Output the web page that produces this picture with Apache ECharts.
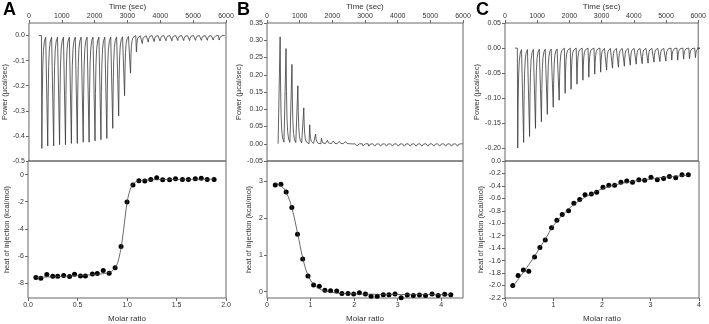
<!DOCTYPE html>
<html>
<head>
<meta charset="utf-8">
<script src="https://cdn.jsdelivr.net/npm/echarts@6/dist/echarts.min.js"></script>
<style>
html, body { margin: 0; padding: 0; background: #fff; }
#chart { width: 709px; height: 324px; }
</style>
</head>
<body>
<div id="chart"></div>
<script>
// injection times (sec) and peak power (ucal/sec) for each thermogram
var timesA = [380, 560, 740, 920, 1100, 1280, 1460, 1640, 1820, 2000, 2180, 2360, 2540, 2720, 2900, 3080,
    3260, 3440, 3620, 3800, 3980, 4160, 4340, 4520, 4700, 4880, 5060, 5240, 5420, 5600, 5780];
var peaksA = [-0.45, -0.44, -0.44, -0.435, -0.435, -0.43, -0.43, -0.425, -0.425, -0.42, -0.415, -0.41,
    -0.37, -0.32, -0.24, -0.15, -0.065, -0.032, -0.026, -0.024, -0.022, -0.021, -0.021, -0.02, -0.02,
    -0.02, -0.019, -0.019, -0.019, -0.018, -0.018];

var timesB = [390, 571, 752, 933, 1114, 1295, 1476, 1657, 1838, 2019, 2200, 2381, 2562, 2743, 2924, 3105,
    3286, 3467, 3648, 3829, 4010, 4191, 4372, 4553, 4734, 4915, 5096, 5277, 5458, 5639, 5820];
var peaksB = [0.31, 0.276, 0.23, 0.168, 0.104, 0.055, 0.028, 0.016, 0.01, 0.008, 0.007, 0.006,
    -0.005, -0.006, -0.006, -0.007, -0.007, -0.007, -0.007, -0.007, -0.007, -0.007, -0.007, -0.007,
    -0.007, -0.007, -0.007, -0.007, -0.007, -0.007, -0.007];

var timesC = [383, 567, 751, 935, 1119, 1303, 1487, 1671, 1855, 2039, 2223, 2407, 2591, 2775, 2959, 3143,
    3327, 3511, 3695, 3879, 4063, 4247, 4431, 4615, 4799, 4983, 5167, 5351, 5535, 5719, 5903];
var peaksC = [-0.199, -0.188, -0.176, -0.16, -0.147, -0.132, -0.118, -0.104, -0.09, -0.082, -0.072,
    -0.064, -0.058, -0.052, -0.048, -0.044, -0.04, -0.038, -0.036, -0.034, -0.032, -0.031, -0.03,
    -0.028, -0.027, -0.026, -0.024, -0.024, -0.022, -0.021, -0.019];

// integrated heats (kcal/mol) vs molar ratio
var ratioA = [0.08, 0.13, 0.19, 0.25, 0.30, 0.36, 0.42, 0.47, 0.53, 0.58, 0.65, 0.70, 0.76, 0.82, 0.88,
    0.94, 1.00, 1.06, 1.12, 1.18, 1.24, 1.30, 1.36, 1.43, 1.49, 1.56, 1.62, 1.69, 1.75, 1.81, 1.88];
var heatA = [-7.59, -7.64, -7.37, -7.49, -7.49, -7.45, -7.52, -7.35, -7.47, -7.47, -7.33, -7.30, -7.08,
    -7.28, -6.87, -5.30, -2.02, -0.77, -0.46, -0.48, -0.36, -0.24, -0.39, -0.39, -0.31, -0.36, -0.36,
    -0.31, -0.27, -0.36, -0.36];
var fitAx = [0.08, 0.3, 0.5, 0.7, 0.8, 0.86, 0.9, 0.92, 0.94, 0.96, 0.98, 1.0, 1.02, 1.04, 1.06, 1.08,
    1.1, 1.2, 1.5, 1.88];
var fitAy = [-7.58, -7.52, -7.45, -7.35, -7.25, -7.05, -6.6, -6.1, -5.4, -4.4, -3.2, -2.1, -1.4, -0.95,
    -0.7, -0.58, -0.5, -0.4, -0.36, -0.35];

var ratioB = [0.19, 0.32, 0.44, 0.57, 0.70, 0.82, 0.94, 1.07, 1.20, 1.33, 1.46, 1.60, 1.72, 1.86, 1.99,
    2.12, 2.26, 2.39, 2.53, 2.67, 2.80, 2.94, 3.08, 3.22, 3.36, 3.50, 3.64, 3.79, 3.93, 4.08, 4.22];
var heatB = [2.90, 2.92, 2.71, 2.29, 1.56, 0.89, 0.43, 0.18, 0.15, 0.04, 0.03, 0.02, -0.05, -0.05, -0.06,
    -0.03, -0.06, -0.12, -0.12, -0.08, -0.08, -0.06, -0.16, -0.09, -0.10, -0.09, -0.10, -0.06, -0.10,
    -0.07, -0.08];
var fitBx = [0.19, 0.32, 0.44, 0.57, 0.7, 0.82, 0.94, 1.07, 1.2, 1.33, 1.5, 1.75, 2.0, 2.5, 3.0, 4.22];
var fitBy = [2.95, 2.88, 2.7, 2.28, 1.6, 0.92, 0.45, 0.2, 0.08, 0.02, -0.02, -0.05, -0.06, -0.07, -0.075, -0.08];

var ratioC = [0.16, 0.27, 0.38, 0.49, 0.61, 0.72, 0.83, 0.96, 1.07, 1.18, 1.31, 1.42, 1.54, 1.65, 1.78,
    1.89, 2.02, 2.14, 2.26, 2.39, 2.51, 2.63, 2.76, 2.88, 3.01, 3.14, 3.27, 3.39, 3.52, 3.65, 3.78];
var heatC = [-2.00, -1.84, -1.75, -1.77, -1.54, -1.39, -1.27, -1.07, -0.95, -0.86, -0.80, -0.68, -0.62,
    -0.54, -0.53, -0.50, -0.42, -0.39, -0.39, -0.34, -0.32, -0.34, -0.30, -0.31, -0.26, -0.30, -0.28,
    -0.25, -0.27, -0.22, -0.22];
var fitCx = [0.16, 0.3, 0.45, 0.6, 0.72, 0.85, 0.97, 1.1, 1.25, 1.4, 1.55, 1.7, 1.85, 2.0, 2.2, 2.4, 2.6,
    2.8, 3.0, 3.3, 3.6, 3.78];
var fitCy = [-2.02, -1.87, -1.71, -1.54, -1.39, -1.23, -1.07, -0.94, -0.82, -0.71, -0.63, -0.56, -0.5,
    -0.45, -0.4, -0.36, -0.33, -0.31, -0.29, -0.26, -0.24, -0.23];

// tick labels
var timeTicks = [0, 1000, 2000, 3000, 4000, 5000, 6000];
var powerTicksA = [-0.5, -0.4, -0.3, -0.2, -0.1, 0.0];
var powerTicksB = [-0.05, 0.0, 0.05, 0.1, 0.15, 0.2, 0.25, 0.3, 0.35];
var powerTicksC = [-0.2, -0.15, -0.1, -0.05, 0.0, 0.05];
var heatTicksA = [-8, -6, -4, -2, 0];
var heatTicksB = [0, 1, 2, 3];
var heatTicksC = [-2.2, -2.0, -1.8, -1.6, -1.4, -1.2, -1.0, -0.8, -0.6, -0.4, -0.2, 0.0];
var ratioTicksA = [0, 0.5, 1.0, 1.5, 2.0];
var ratioTicksB = [0, 1, 2, 3, 4];
var ratioTicksC = [0, 1, 2, 3, 4];

// shape of one injection peak (offset sec, fraction of peak)
var spikeOff = [0, 12, 25, 40, 60, 90, 130, 172];
var spikeFrac = [0, 1, 0.55, 0.28, 0.13, 0.05, 0.015, 0];

function thermo(times, peaks, tStart, tEnd) {
    var d = [[tStart, 0]];
    for (var i = 0; i < times.length; i++) {
        for (var k = 0; k < spikeOff.length; k++) {
            d.push([times[i] + spikeOff[k], peaks[i] * spikeFrac[k]]);
        }
    }
    d.push([tEnd, 0]);
    return d;
}
function pairs(xs, ys) {
    var d = [];
    for (var i = 0; i < xs.length; i++) d.push([xs[i], ys[i]]);
    return d;
}

var font = 'Liberation Sans, Arial, sans-serif';
var txt = '#333';
var panels = [
    {left: 28, width: 198, rmax: 2, rticks: ratioTicksA, rdec: 1, ptick: powerTicksA, pmin: -0.5, pmax: 0.05, pdec: 1,
        htick: heatTicksA, hmin: -9.1, hmax: 1, hdec: 0, pgap: 18, hgap: 17},
    {left: 267, width: 196, rmax: 4.5, rticks: ratioTicksB, rdec: 0, ptick: powerTicksB, pmin: -0.05, pmax: 0.35, pdec: 2,
        htick: heatTicksB, hmin: -0.17, hmax: 3.55, hdec: 0, pgap: 18, hgap: 14},
    {left: 505, width: 194, rmax: 4, rticks: ratioTicksC, rdec: 0, ptick: powerTicksC, pmin: -0.225, pmax: 0.05, pdec: 2,
        htick: heatTicksC, hmin: -2.2, hmax: 0, hdec: 1, pgap: 21, hgap: 20}
];

var grids = [], xAxes = [], yAxes = [];
function fmt(dec) {
    return function (v) { return (Math.abs(v) < 1e-9 ? 0 : v).toFixed(dec); };
}
panels.forEach(function (p) {
    grids.push({left: p.left, width: p.width, top: 23, height: 138, show: true, borderColor: '#666', borderWidth: 1});
    grids.push({left: p.left, width: p.width, top: 161, height: 139, show: true, borderColor: '#666', borderWidth: 1});
    var g = grids.length - 2;
    xAxes.push({
        gridIndex: g, type: 'value', position: 'top', min: 0, max: 6000,
        name: 'Time (sec)', nameLocation: 'middle', nameGap: 12,
        nameTextStyle: {fontSize: 8, color: txt, fontFamily: font},
        axisLine: {show: false, onZero: false}, splitLine: {show: false},
        axisTick: {show: true, inside: false, length: 3, customValues: timeTicks, lineStyle: {color: '#666'}},
        axisLabel: {fontSize: 7, color: txt, fontFamily: font, margin: 3, customValues: timeTicks, formatter: fmt(0)}
    });
    xAxes.push({
        gridIndex: g + 1, type: 'value', position: 'bottom', min: 0, max: p.rmax,
        name: 'Molar ratio', nameLocation: 'middle', nameGap: 17,
        nameTextStyle: {fontSize: 8, color: txt, fontFamily: font},
        axisLine: {show: false, onZero: false}, splitLine: {show: false},
        axisTick: {show: true, inside: false, length: 3, customValues: p.rticks, lineStyle: {color: '#666'}},
        axisLabel: {fontSize: 7, color: txt, fontFamily: font, margin: 4, customValues: p.rticks, formatter: fmt(p.rdec)}
    });
    yAxes.push({
        gridIndex: g, type: 'value', min: p.pmin, max: p.pmax,
        name: 'Power (\u00b5cal/sec)', nameLocation: 'middle', nameGap: p.pgap,
        nameTextStyle: {fontSize: 7.5, color: txt, fontFamily: font},
        axisLine: {show: false, onZero: false}, splitLine: {show: false},
        axisTick: {show: true, inside: false, length: 3, customValues: p.ptick, lineStyle: {color: '#666'}},
        axisLabel: {fontSize: 7, color: txt, fontFamily: font, margin: 4, customValues: p.ptick, formatter: fmt(p.pdec)}
    });
    yAxes.push({
        gridIndex: g + 1, type: 'value', min: p.hmin, max: p.hmax,
        name: 'heat of injection (kcal/mol)', nameLocation: 'middle', nameGap: p.hgap,
        nameTextStyle: {fontSize: 7.5, color: txt, fontFamily: font},
        axisLine: {show: false, onZero: false}, splitLine: {show: false},
        axisTick: {show: true, inside: false, length: 3, customValues: p.htick, lineStyle: {color: '#666'}},
        axisLabel: {fontSize: 7, color: txt, fontFamily: font, margin: 4, customValues: p.htick, formatter: fmt(p.hdec)}
    });
});

var traceStyle = {color: '#3a3a3a', width: 0.8};
function traceSeries(idx, data) {
    return {type: 'line', xAxisIndex: idx, yAxisIndex: idx, data: data, showSymbol: false,
        lineStyle: traceStyle, silent: true, animation: false};
}
function fitSeries(idx, data) {
    return {type: 'line', xAxisIndex: idx, yAxisIndex: idx, data: data, showSymbol: false, smooth: 0.4,
        lineStyle: {color: '#444', width: 0.8}, silent: true, animation: false};
}
function dotSeries(idx, data) {
    return {type: 'scatter', xAxisIndex: idx, yAxisIndex: idx, data: data, symbol: 'circle', symbolSize: 5,
        itemStyle: {color: '#000', opacity: 1}, silent: true, animation: false};
}

var option = {
    backgroundColor: '#fff',
    animation: false,
    grid: grids,
    xAxis: xAxes,
    yAxis: yAxes,
    graphic: [
        {type: 'text', left: 3, top: 1, style: {text: 'A', fontSize: 18, fontWeight: 'bold', fill: '#000', fontFamily: font}},
        {type: 'text', left: 237, top: 1, style: {text: 'B', fontSize: 18, fontWeight: 'bold', fill: '#000', fontFamily: font}},
        {type: 'text', left: 476, top: 1, style: {text: 'C', fontSize: 18, fontWeight: 'bold', fill: '#000', fontFamily: font}}
    ],
    series: [
        traceSeries(0, thermo(timesA, peaksA, 300, 5930)),
        fitSeries(1, pairs(fitAx, fitAy)),
        dotSeries(1, pairs(ratioA, heatA)),
        traceSeries(2, thermo(timesB, peaksB, 340, 5960)),
        fitSeries(3, pairs(fitBx, fitBy)),
        dotSeries(3, pairs(ratioB, heatB)),
        traceSeries(4, thermo(timesC, peaksC, 310, 5960)),
        fitSeries(5, pairs(fitCx, fitCy)),
        dotSeries(5, pairs(ratioC, heatC))
    ]
};

var myChart = echarts.init(document.getElementById('chart'));
myChart.setOption(option);
</script>
</body>
</html>
